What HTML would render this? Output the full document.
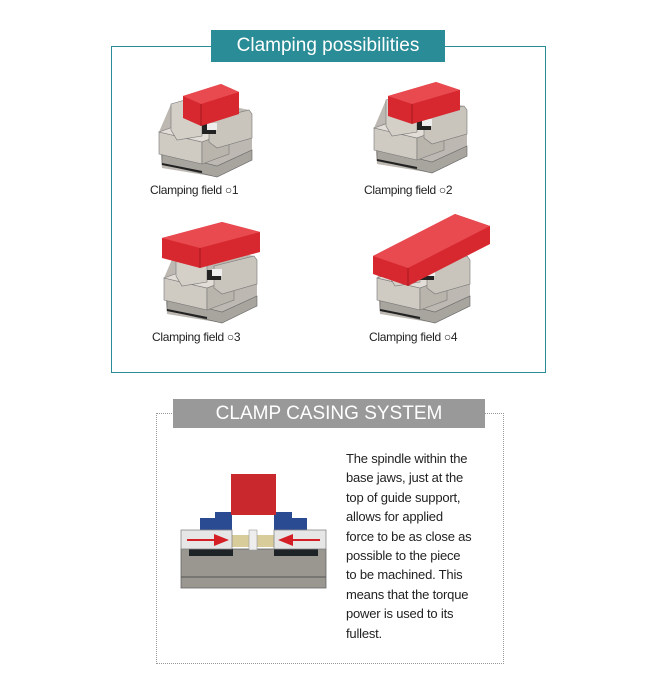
<!DOCTYPE html>
<html><head><meta charset="utf-8"><style>
body{margin:0;background:#fff;width:655px;height:687px;position:relative;overflow:hidden;font-family:"Liberation Sans",sans-serif}
.abs{position:absolute}
.cap{position:absolute;font-size:12px;color:#222;letter-spacing:-0.3px}
.txt{position:absolute;left:346px;top:449px;font-size:13px;line-height:19.4px;color:#222;letter-spacing:-0.2px;white-space:nowrap}
</style></head><body>
<div class="abs" style="left:111px;top:46px;width:433px;height:325px;border:1.5px solid #2a8c96"></div>
<div class="abs" style="left:211px;top:30px;width:234px;height:32px;background:#2a8c96;color:#fff;font-size:19px;line-height:32px;text-align:center">Clamping possibilities</div>
<svg class="abs" style="left:0;top:0" width="655" height="400">
<defs>
<g id="vise">
<polygon points="2,52 14,24 35,18 92,30 95,34 95,80 60,97 5,88" fill="#bdb9b2"/>
<polygon points="5,72 60,86 95,70 95,80 60,97 5,84" fill="#a8a49e" stroke="#666" stroke-width="0.6"/>
<polygon points="2,52 45,62 45,84 2,74" fill="#cfcac2" stroke="#777" stroke-width="0.6"/>
<polygon points="2,52 30,42 72,52 45,62" fill="#e2ded7" stroke="#777" stroke-width="0.6"/>
<polygon points="45,62 72,52 72,74 45,84" fill="#b9b4ac" stroke="#777" stroke-width="0.6"/>
<polygon points="52,40 92,30 95,34 95,58 60,68 52,62" fill="#c9c4bc" stroke="#777" stroke-width="0.6"/>
<polygon points="14,24 35,18 45,22 45,56 20,60 14,50" fill="#d4d0c8" stroke="#777" stroke-width="0.6"/>
<rect x="45" y="44" width="14" height="10" fill="#222"/>
<rect x="50" y="43" width="10" height="7" fill="#eee"/>
<line x1="5" y1="84" x2="45" y2="92" stroke="#222" stroke-width="2"/>
</g>
</defs>
<g transform="translate(157,80)"><use href="#vise"/>
<polygon points="26,16 64,4 82,12 82,34 44,46 26,38" fill="#d7282f"/><polygon points="26,16 64,4 82,12 44,24" fill="#e84a50"/><line x1="44" y1="24" x2="44" y2="46" stroke="#a01a20"/></g>
<g transform="translate(372,76)"><use href="#vise"/>
<polygon points="16,20 64,6 88,14 88,34 40,48 16,40" fill="#d7282f"/><polygon points="16,20 64,6 88,14 40,28" fill="#e84a50"/><line x1="40" y1="28" x2="40" y2="48" stroke="#a01a20"/></g>
<g transform="translate(162,226)"><use href="#vise"/>
<polygon points="0,12 60,-4 98,6 98,26 38,42 0,32" fill="#d7282f"/><polygon points="0,12 60,-4 98,6 38,22" fill="#e84a50"/><line x1="38" y1="22" x2="38" y2="42" stroke="#a01a20"/></g>
<g transform="translate(375,226)"><use href="#vise"/>
<polygon points="-2,30 80,-12 115,0 115,18 33,60 -2,48" fill="#d7282f"/><polygon points="-2,30 80,-12 115,0 33,42" fill="#e84a50"/><line x1="33" y1="42" x2="33" y2="60" stroke="#a01a20"/></g>
</svg>
<div class="cap" style="left:150px;top:183px">Clamping field ○1</div>
<div class="cap" style="left:364px;top:183px">Clamping field ○2</div>
<div class="cap" style="left:152px;top:330px">Clamping field ○3</div>
<div class="cap" style="left:369px;top:330px">Clamping field ○4</div>

<div class="abs" style="left:156px;top:413px;width:346px;height:249px;border:1px dotted #999"></div>
<div class="abs" style="left:173px;top:399px;width:312px;height:29px;background:#999;color:#fff;font-size:19px;line-height:30px;text-align:center">CLAMP CASING SYSTEM</div>
<svg class="abs" style="left:0;top:400px" width="655" height="287">
<rect x="181" y="149" width="145" height="39" fill="#9a9791" stroke="#666" stroke-width="0.8"/>
<line x1="181" y1="177" x2="326" y2="177" stroke="#555"/>
<rect x="189" y="149" width="44" height="7" fill="#1d2327"/>
<rect x="274" y="149" width="44" height="7" fill="#1d2327"/>
<polygon points="200,130 200,118 215,118 215,112 232,112 232,130" fill="#2a4a92"/>
<polygon points="307,130 307,118 292,118 292,112 274,112 274,130" fill="#2a4a92"/>
<rect x="231" y="74" width="45" height="41" fill="#c9282d"/>
<rect x="232" y="135" width="42" height="12" fill="#d8cc9a"/>
<rect x="249" y="130" width="8" height="20" fill="#eee" stroke="#999" stroke-width="0.6"/>
<rect x="181" y="130" width="51" height="19" fill="#e6e6e6" stroke="#888" stroke-width="0.8"/>
<rect x="274" y="130" width="52" height="19" fill="#e6e6e6" stroke="#888" stroke-width="0.8"/>
<line x1="187" y1="140" x2="216" y2="140" stroke="#d31f25" stroke-width="2"/>
<polygon points="214,134 229,140 214,146" fill="#d31f25"/>
<line x1="320" y1="140" x2="292" y2="140" stroke="#d31f25" stroke-width="2"/>
<polygon points="293,134 278,140 293,146" fill="#d31f25"/>
</svg>
<div class="txt">The spindle within the<br>base jaws, just at the<br>top of guide support,<br>allows for applied<br>force to be as close as<br>possible to the piece<br>to be machined. This<br>means that the torque<br>power is used to its<br>fullest.</div>
</body></html>
